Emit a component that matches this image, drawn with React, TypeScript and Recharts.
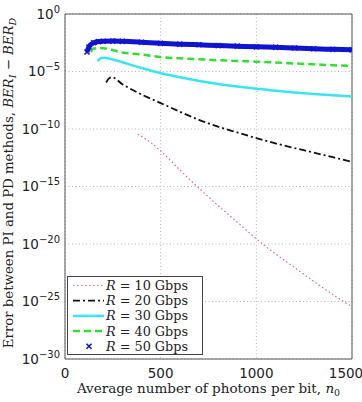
import React from 'react';
import {
  LineChart, Line, XAxis, YAxis, CartesianGrid, Legend, ReferenceLine
} from 'recharts';

// photons per bit (x) and BER_I - BER_D (y) for each bit rate
const N_10 = [380, 450, 500, 600, 700, 800, 900, 1000, 1100, 1200, 1300, 1400, 1500];
const ERR_10 = [3.5e-11, 6.3e-12, 1.26e-12, 2.8e-14, 7.1e-16, 2.2e-17, 7.9e-19, 2.8e-20, 1.4e-21, 8.9e-23, 5.6e-24, 4.0e-25, 3.5e-26];

const N_20 = [215, 230, 245, 300, 400, 500, 600, 700, 800, 900, 1000, 1100, 1200, 1300, 1400, 1500];
const ERR_20 = [1.1e-6, 2.5e-6, 3.2e-6, 7.9e-7, 1.0e-7, 1.8e-8, 3.2e-9, 6.3e-10, 1.6e-10, 5.0e-11, 1.6e-11, 5.6e-12, 2.2e-12, 8.9e-13, 3.5e-13, 1.4e-13];

const N_30 = [170, 185, 200, 250, 300, 400, 500, 600, 700, 800, 900, 1000, 1100, 1200, 1300, 1400, 1500];
const ERR_30 = [7.9e-5, 1.4e-4, 1.6e-4, 1.12e-4, 6.3e-5, 2.0e-5, 7.1e-6, 3.2e-6, 1.5e-6, 8.3e-7, 5.0e-7, 3.2e-7, 2.1e-7, 1.5e-7, 1.12e-7, 8.5e-8, 6.6e-8];

const N_40 = [135, 150, 175, 200, 300, 400, 500, 600, 700, 800, 900, 1000, 1100, 1200, 1300, 1400, 1500];
const ERR_40 = [5.0e-4, 1.0e-3, 1.1e-3, 1.07e-3, 4.5e-4, 3.0e-4, 1.8e-4, 1.4e-4, 1.15e-4, 9.5e-5, 8.3e-5, 7.2e-5, 6.0e-5, 5.0e-5, 4.2e-5, 3.5e-5, 3.0e-5];

const N_50 = [115, 125, 150, 175, 200, 250, 300, 400, 500, 600, 700, 800, 900, 1000, 1100, 1200, 1300, 1400, 1500];
const ERR_50 = [5.0e-4, 1.35e-3, 3.2e-3, 4.0e-3, 4.3e-3, 4.4e-3, 4.2e-3, 3.5e-3, 2.8e-3, 2.4e-3, 2.1e-3, 1.8e-3, 1.6e-3, 1.4e-3, 1.26e-3, 1.1e-3, 9.5e-4, 8.5e-4, 7.6e-4];

const X_TICKS = [0, 500, 1000, 1500];
const Y_TICKS = [1, 1e-5, 1e-10, 1e-15, 1e-20, 1e-25, 1e-30];

const RATES = ['10', '20', '30', '40', '50'];

const rows = (n: number[], v: number[]) => n.map((x, i) => ({ n: x, v: v[i] }));

const SANS = '"DejaVu Sans", sans-serif';
const SERIF = '"DejaVu Serif", serif';

const STYLES = [
  { color: '#e8667c', width: 1.2, dash: '1.5 2.5' },
  { color: '#111111', width: 1.8, dash: '7 3 2 3' },
  { color: '#3ae4f0', width: 2.5, dash: undefined },
  { color: '#33dd33', width: 2.5, dash: '7 4' },
  { color: '#1014d0', width: 5, dash: undefined },
];

const SERIES = [
  rows(N_10, ERR_10),
  rows(N_20, ERR_20),
  rows(N_30, ERR_30),
  rows(N_40, ERR_40),
  rows(N_50, ERR_50),
];

const XMark = (props: any) => {
  const { cx, cy } = props;
  if (cx == null || cy == null) return null;
  const s = 2.5;
  return (
    <path
      d={`M${cx - s},${cy - s}L${cx + s},${cy + s}M${cx - s},${cy + s}L${cx + s},${cy - s}`}
      stroke="#1014d0"
      strokeWidth={1.6}
    />
  );
};

const YTick = (props: any) => {
  const { x, y, payload } = props;
  const exp = Math.round(Math.log10(payload.value));
  return (
    <text x={x} y={y} textAnchor="end" fontFamily={SANS} fontSize={13.5} fill="#222">
      <tspan dy="0.35em">10</tspan>
      <tspan dy="-0.6em" fontSize={10}>{exp === 0 ? '0' : `\u2212${-exp}`}</tspan>
    </text>
  );
};

const XTick = (props: any) => {
  const { x, y, payload } = props;
  return (
    <text x={x} y={y} dy="0.71em" textAnchor="middle" fontFamily={SANS} fontSize={13.5} fill="#222">
      {payload.value}
    </text>
  );
};

const XTitle = (props: any) => {
  const { viewBox } = props;
  const cx = viewBox.x + viewBox.width / 2;
  return (
    <text x={cx} y={viewBox.y + 34} textAnchor="middle" fontFamily={SERIF} fontSize={13.5} fill="#222">
      Average number of photons per bit, <tspan fontStyle="italic">n</tspan>
      <tspan fontSize={9.5} dy={3}>0</tspan>
    </text>
  );
};

const YTitle = () => {
  const cx = 13;
  const cy = 183;
  return (
    <text
      x={cx}
      y={cy}
      textAnchor="middle"
      transform={`rotate(-90 ${cx} ${cy})`}
      fontFamily={SERIF}
      fontSize={13.3}
      fill="#222"
    >
      Error between PI and PD methods, <tspan fontStyle="italic">BER</tspan>
      <tspan fontStyle="italic" fontSize={9.5} dy={3}>I</tspan>
      <tspan dy={-3}> {'\u2212'} </tspan>
      <tspan fontStyle="italic">BER</tspan>
      <tspan fontStyle="italic" fontSize={9.5} dy={3}>D</tspan>
    </text>
  );
};

const LegendBox = () => {
  const rowY = (i: number) => 9.5 + i * 15.2;
  return (
    <svg width={136} height={79} style={{ display: 'block' }}>
      <rect x={0.5} y={0.5} width={135} height={78} fill="#fff" stroke="#444" strokeWidth={1} />
      {STYLES.map((s, i) => (
        <g key={i}>
          {i === 4 ? (
            <XMark cx={22} cy={rowY(i)} />
          ) : (
            <line
              x1={6}
              x2={37}
              y1={rowY(i)}
              y2={rowY(i)}
              stroke={s.color}
              strokeWidth={Math.min(s.width, 2.5)}
              strokeDasharray={s.dash}
            />
          )}
          <text x={39} y={rowY(i)} dy="0.35em" fontFamily={SERIF} fontSize={12.8} fill="#222">
            <tspan fontStyle="italic">R</tspan> = {RATES[i]} Gbps
          </text>
        </g>
      ))}
    </svg>
  );
};

export default function App() {
  return (
    <div style={{ position: 'absolute', left: 0, top: 0, width: 362, height: 402, background: '#fff' }}>
      <LineChart width={362} height={402} margin={{ top: 14, right: 10, bottom: 0, left: 0 }}>
        <CartesianGrid stroke="#b5b5b5" strokeDasharray="1 2.5" />
        <XAxis
          type="number"
          dataKey="n"
          domain={[0, 1500]}
          ticks={X_TICKS}
          allowDataOverflow
          height={43}
          tickSize={0}
          tickMargin={9}
          tick={<XTick />}
          axisLine={{ stroke: '#555' }}
          label={<XTitle />}
        />
        <YAxis
          type="number"
          dataKey="v"
          scale="log"
          domain={[1e-30, 1]}
          ticks={Y_TICKS}
          allowDataOverflow
          width={65}
          tickSize={0}
          tickMargin={5}
          tick={<YTick />}
          axisLine={{ stroke: '#555' }}
          label={<YTitle />}
        />
        <ReferenceLine y={1} stroke="#555" />
        <ReferenceLine x={1500} stroke="#555" />
        {SERIES.map((d, i) => (
          <Line
            key={RATES[i]}
            data={d}
            dataKey="v"
            type="monotone"
            stroke={STYLES[i].color}
            strokeWidth={STYLES[i].width}
            strokeDasharray={STYLES[i].dash}
            dot={i === 4 ? <XMark /> : false}
            activeDot={false}
            isAnimationActive={false}
          />
        ))}
        <Legend
          content={<LegendBox />}
          layout="vertical"
          align="center"
          verticalAlign="middle"
          wrapperStyle={{ left: 67, top: 276, width: 136, height: 79 }}
        />
      </LineChart>
    </div>
  );
}
